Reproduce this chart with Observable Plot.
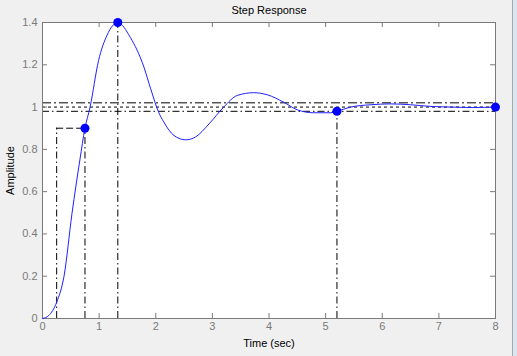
<!DOCTYPE html>
<html>
<head>
<meta charset="utf-8">
<script src="https://cdn.jsdelivr.net/npm/d3@7"></script>
<script src="https://cdn.jsdelivr.net/npm/@observablehq/plot@0.6"></script>
<style>
  html, body { margin: 0; padding: 0; background: #f0f0f0; }
  body { width: 517px; height: 356px; position: relative; overflow: hidden; font-family: "Liberation Sans", Arial, sans-serif; }
  #chrome { position: absolute; left: 512px; top: 0; width: 5px; height: 356px; border-left: 1px solid #a8a8a8; background: #dce6f2; box-sizing: border-box; }
</style>
</head>
<body>
<div id="chart"></div>
<div id="chrome"></div>
<script>
// Step response samples
const time = [0, 0.11, 0.25, 0.38, 0.52, 0.66, 0.75, 0.84, 0.99, 1.14, 1.33, 1.55, 1.79, 1.91, 2.05, 2.14, 2.32, 2.53, 2.70, 2.94, 3.20, 3.44, 3.73, 3.97, 4.26, 4.50, 4.79, 5.09, 5.2, 5.44, 5.80, 6.15, 6.50, 6.86, 7.21, 7.6, 8];
const amplitude = [0, 0.014, 0.077, 0.20, 0.495, 0.75, 0.90, 1.0, 1.22, 1.34, 1.40, 1.33, 1.19, 1.087, 0.976, 0.93, 0.866, 0.845, 0.858, 0.92, 1.0, 1.055, 1.068, 1.058, 1.023, 0.987, 0.973, 0.973, 0.98, 1.0, 1.011, 1.015, 1.011, 1.003, 1.0, 0.998, 1.0];

// Characteristic points
const riseStart = 0.25;
const riseEnd = 0.75;
const riseLevel = 0.9;
const peakTime = 1.33;
const peakAmp = 1.4;
const settleTime = 5.2;
const settleAmp = 0.98;
const finalTime = 8;
const finalValue = 1;
const bandLow = 0.98;
const bandHigh = 1.02;

const markerT = [riseEnd, peakTime, settleTime, finalTime];
const markerA = [riseLevel, peakAmp, settleAmp, finalValue];

const xTicks = [0, 1, 2, 3, 4, 5, 6, 7, 8];
const yTicks = [0, 0.2, 0.4, 0.6, 0.8, 1, 1.2, 1.4];

const curve = time.map((t, i) => ({t, a: amplitude[i]}));
const markers = markerT.map((t, i) => ({t, a: markerA[i]}));

const dashDot = "7,3,1.5,3";
const axisGrey = "#7a7a7a";
const labelGrey = "#7a7a7a";

const plot = Plot.plot({
  width: 517,
  height: 356,
  marginLeft: 42,
  marginRight: 22,
  marginTop: 22,
  marginBottom: 38,
  style: {background: "transparent", fontFamily: "'Liberation Sans', Arial, sans-serif", fontSize: "11px", overflow: "visible"},
  x: {domain: [0, 8]},
  y: {domain: [0, 1.4]},
  marks: [
    Plot.frame({fill: "white", stroke: "none"}),
    // horizontal reference lines
    Plot.ruleY([bandHigh], {stroke: "black", strokeWidth: 1, strokeDasharray: "9,3,2,3"}),
    Plot.ruleY([finalValue], {stroke: "black", strokeWidth: 1, strokeDasharray: "3,3"}),
    Plot.ruleY([bandLow], {stroke: "black", strokeWidth: 1, strokeDasharray: dashDot}),
    // rise time
    Plot.ruleY([riseLevel], {x1: riseStart, x2: riseEnd, stroke: "black", strokeDasharray: "7,3"}),
    Plot.ruleX([riseStart], {y1: 0, y2: riseLevel, stroke: "black", strokeDasharray: dashDot}),
    Plot.ruleX([riseEnd], {y1: 0, y2: riseLevel, stroke: "black", strokeDasharray: dashDot}),
    // peak
    Plot.ruleY([peakAmp], {x1: 0, x2: peakTime, stroke: "black", strokeDasharray: dashDot}),
    Plot.ruleX([peakTime], {y1: 0, y2: peakAmp, stroke: "black", strokeDasharray: dashDot}),
    // settling
    Plot.ruleX([settleTime], {y1: 0, y2: settleAmp, stroke: "black", strokeDasharray: dashDot}),
    // inward ticks on all four sides
    Plot.ruleX(xTicks, {insetTop: 291, stroke: axisGrey}),
    Plot.ruleX(xTicks, {insetBottom: 291, stroke: axisGrey}),
    Plot.ruleY(yTicks, {insetLeft: 448, stroke: axisGrey}),
    Plot.ruleY(yTicks, {insetRight: 448, stroke: axisGrey}),
    Plot.frame({stroke: axisGrey, strokeWidth: 1}),
    // response curve
    Plot.line(curve, {x: "t", y: "a", stroke: "#1f1fff", strokeWidth: 1, curve: "monotone-x"}),
    Plot.dot(markers, {x: "t", y: "a", r: 4.5, fill: "#0000ff", stroke: "none"}),
    Plot.axisX({ticks: xTicks, tickSize: 0, tickPadding: 4, tickFormat: d3.format("d"), color: labelGrey,
      label: "Time (sec)", labelAnchor: "center", labelOffset: 28, labelArrow: "none"}),
    Plot.axisY({ticks: yTicks, tickSize: 0, tickPadding: 5, tickFormat: d3.format("~g"), color: labelGrey,
      label: "Amplitude", labelAnchor: "center", labelOffset: 36, labelArrow: "none"}),
    Plot.text(["Step Response"], {frameAnchor: "top", dy: -12, lineAnchor: "middle", fill: "black", fontSize: 11})
  ]
});
document.getElementById("chart").appendChild(plot);
// axis titles in black like the reference
plot.querySelectorAll("[aria-label='x-axis label'] text, [aria-label='y-axis label'] text").forEach(t => t.setAttribute("fill", "black"));
</script>
</body>
</html>
